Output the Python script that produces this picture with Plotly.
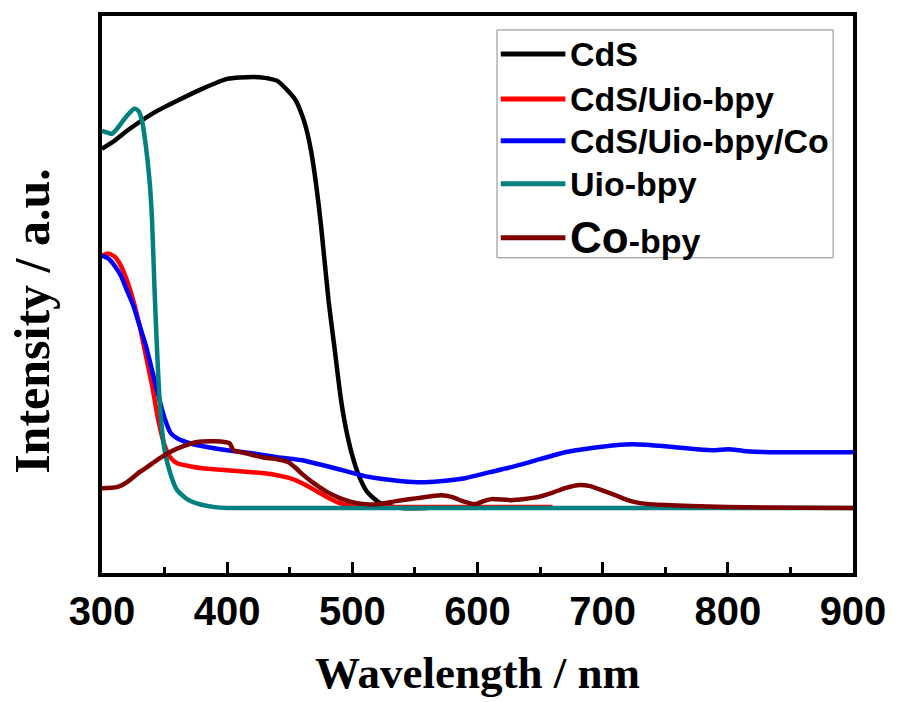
import plotly.graph_objects as go

# UV-vis diffuse reflectance spectra (arbitrary intensity units)
cds_x = [300, 310, 320, 340, 360, 380, 400, 420, 430, 440, 450, 455, 460, 463, 467, 471, 475,
         481, 486, 491, 496, 501, 506, 512, 521, 530, 540, 560]
cds_y = [4.25, 4.33, 4.43, 4.60, 4.73, 4.85, 4.95, 4.97, 4.96, 4.93, 4.81, 4.73, 4.58, 4.46,
         4.23, 3.90, 3.48, 2.73, 2.23, 1.73, 1.38, 1.13, 0.95, 0.81, 0.71, 0.67, 0.65, 0.65]

cds_uio_x = [300, 305, 310, 315, 320, 325, 330, 335, 340, 345, 350, 355, 360, 370, 380, 400,
             420, 440, 450, 460, 470, 480, 490, 500, 520, 660]
cds_uio_y = [3.18, 3.20, 3.17, 3.08, 2.93, 2.73, 2.48, 2.18, 1.88, 1.53, 1.28, 1.15, 1.10, 1.07,
             1.05, 1.03, 1.01, 0.98, 0.95, 0.90, 0.83, 0.76, 0.70, 0.67, 0.66, 0.66]

cds_uio_co_x = [300, 305, 310, 315, 320, 325, 330, 335, 340, 345, 350, 355, 360, 370, 385, 400,
                420, 440, 460, 470, 480, 495, 510, 520, 540, 555, 570, 590, 610, 630, 650, 670,
                690, 710, 725, 750, 775, 790, 800, 815, 840, 870, 900]
cds_uio_co_y = [3.18, 3.15, 3.08, 2.98, 2.83, 2.68, 2.48, 2.28, 2.03, 1.78, 1.55, 1.40, 1.35,
                1.30, 1.26, 1.23, 1.20, 1.16, 1.13, 1.10, 1.07, 1.02, 0.97, 0.95, 0.92, 0.91,
                0.92, 0.95, 1.01, 1.07, 1.14, 1.21, 1.25, 1.28, 1.29, 1.27, 1.24, 1.23, 1.24,
                1.22, 1.21, 1.21, 1.21]

uio_x = [300, 305, 308, 312, 318, 322, 326, 329, 332, 335, 338, 340, 342, 344, 346, 348, 350,
         355, 360, 368, 375, 390, 400, 900]
uio_y = [4.43, 4.41, 4.40, 4.45, 4.55, 4.61, 4.65, 4.63, 4.53, 4.28, 3.93, 3.53, 2.83, 2.23,
         1.73, 1.43, 1.23, 0.98, 0.83, 0.74, 0.70, 0.66, 0.65, 0.65]

co_x = [300, 312, 320, 330, 336, 345, 354, 365, 375, 390, 399, 402, 405, 415, 428, 440, 449,
        455, 460, 468, 480, 490, 500, 510, 521, 535, 552, 571, 580, 588, 598, 605, 611, 627,
        648, 661, 670, 680, 690, 697, 710, 720, 730, 750, 800, 900]
co_y = [0.85, 0.86, 0.91, 1.01, 1.06, 1.14, 1.21, 1.27, 1.31, 1.32, 1.31, 1.30, 1.23, 1.20,
        1.16, 1.14, 1.11, 1.05, 0.99, 0.91, 0.81, 0.75, 0.71, 0.69, 0.69, 0.72, 0.75, 0.78,
        0.76, 0.72, 0.69, 0.72, 0.74, 0.73, 0.76, 0.81, 0.85, 0.88, 0.87, 0.84, 0.78, 0.73,
        0.70, 0.68, 0.66, 0.65]

series = [
    ("CdS", cds_x, cds_y, "#000000"),
    ("CdS/Uio-bpy", cds_uio_x, cds_uio_y, "#ff0000"),
    ("CdS/Uio-bpy/Co", cds_uio_co_x, cds_uio_co_y, "#0000ff"),
    ("Uio-bpy", uio_x, uio_y, "#008080"),
    ("Co-bpy", co_x, co_y, "#800000"),
]
legend_labels = [
    "CdS",
    "CdS/Uio-bpy",
    "CdS/Uio-bpy/Co",
    "Uio-bpy",
    "<span style='font-size:44px'>Co</span>-bpy",
]

x_ticks = [300, 400, 500, 600, 700, 800, 900]

fig = go.Figure()
for name, xs, ys, color in series:
    fig.add_trace(go.Scatter(x=xs, y=ys, mode="lines", name=name,
                             line=dict(color=color, width=4.5, shape="spline", smoothing=0.6),
                             showlegend=False))

# Hand-drawn legend box so the line samples can be long
shapes = [dict(type="rect", xref="paper", yref="paper", x0=0.526, x1=0.9735, y0=0.566, y1=0.975,
               line=dict(color="#8a8a8a", width=1), fillcolor="white", layer="above")]
annotations = []
legend_rows = [0.932, 0.851, 0.776, 0.699, 0.602]
for (name, _, _, color), label, yy in zip(series, legend_labels, legend_rows):
    shapes.append(dict(type="line", xref="paper", yref="paper", x0=0.531, x1=0.617, y0=yy, y1=yy,
                       line=dict(color=color, width=5), layer="above"))
    annotations.append(dict(xref="paper", yref="paper", x=0.621, y=yy, xanchor="left",
                            yanchor="middle", showarrow=False, text=label,
                            font=dict(family="Liberation Sans, Arial", size=34, color="black",
                                      weight="bold")))

annotations.append(dict(xref="paper", yref="paper", x=0.5, y=-0.18, xanchor="center",
                        yanchor="middle", showarrow=False, text="Wavelength / nm",
                        font=dict(family="Liberation Serif, Times New Roman", size=45,
                                  color="black", weight="bold")))
annotations.append(dict(xref="paper", yref="paper", x=-0.093, y=0.453, xanchor="center",
                        yanchor="middle", showarrow=False, text="Intensity / a.u.", textangle=-90,
                        font=dict(family="Liberation Serif, Times New Roman", size=50,
                                  color="black", weight="bold")))

fig.update_layout(
    width=898, height=702,
    margin=dict(l=102, r=41, t=15, b=129),
    paper_bgcolor="white", plot_bgcolor="white",
    shapes=shapes, annotations=annotations,
    xaxis=dict(range=[300, 900], tickvals=x_ticks, ticktext=[str(t) for t in x_ticks],
               showgrid=False, zeroline=False, showline=True, mirror=True, linewidth=4,
               linecolor="black", ticks="inside", ticklen=11, tickwidth=3, tickcolor="black",
               tickfont=dict(family="Liberation Sans, Arial", size=40, color="black",
                             weight="bold"),
               minor=dict(dtick=50, tick0=350, ticks="inside", ticklen=6, tickwidth=3,
                          tickcolor="black")),
    yaxis=dict(range=[0, 5.58], showgrid=False, zeroline=False, showline=True, mirror=True,
               linewidth=4, linecolor="black", ticks="", showticklabels=False),
)

fig.write_html("out.html")
